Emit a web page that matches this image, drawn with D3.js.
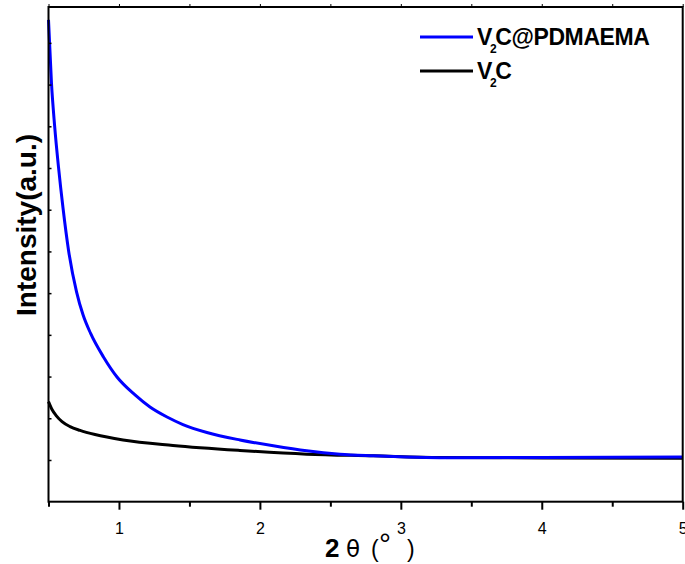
<!DOCTYPE html>
<html><head><meta charset="utf-8">
<script src="https://cdn.jsdelivr.net/npm/d3@7"></script>
<style>
html,body{margin:0;padding:0;background:#fff;}
svg{display:block;overflow:visible;}
text{font-family:"Liberation Sans",Arial,sans-serif;}
</style></head>
<body>
<svg id="chart" width="685" height="564"></svg>
<script>
// ---- data (2θ in degrees, intensity in a.u.) ----
const seriesNames = ["V2C@PDMAEMA", "V2C"];
const blueX = [0.5, 0.521, 0.543, 0.571, 0.603, 0.642, 0.699, 0.745, 0.798, 0.890, 0.986, 1.114, 1.22, 1.341, 1.454, 1.624, 1.859, 2.095, 2.332, 2.568, 2.805, 3.04, 3.278, 4.0, 5.0];
const blueY = [11.55, 10.04, 9.03, 8.02, 7.04, 6.03, 5.03, 4.48, 4.04, 3.47, 2.99, 2.56, 2.27, 2.03, 1.85, 1.66, 1.48, 1.34, 1.22, 1.14, 1.10, 1.07, 1.055, 1.06, 1.07];
const blackX = [0.5, 0.525, 0.553, 0.596, 0.653, 0.724, 0.83, 1.029, 1.383, 1.858, 2.332, 2.803, 3.278, 4.009, 5.0];
const blackY = [2.40, 2.21, 2.07, 1.92, 1.80, 1.71, 1.61, 1.48, 1.35, 1.23, 1.14, 1.10, 1.06, 1.05, 1.04];
const xTicks = [0.5, 1, 1.5, 2, 2.5, 3, 3.5, 4, 4.5, 5];
const xTickLabels = ["", "1", "", "2", "", "3", "", "4", "", "5"];
const yTicks = [1, 2, 3, 4, 5, 6, 7, 8, 9, 10, 11];
const colors = ["#0000ff", "#000000"];

const svg = d3.select("#chart");
const L = 48.5, R = 682.7, T = 7, B = 501.7;
const x = d3.scaleLinear().domain([0.5, 5]).range([L, R]);
const y = d3.scaleLinear().domain([0, 11.86]).range([B, T]);

const line = d3.line().x(d => x(d[0])).y(d => y(d[1])).curve(d3.curveMonotoneX);
const blue = blueX.map((v, i) => [v, blueY[i]]);
const black = blackX.map((v, i) => [v, blackY[i]]);

svg.append("path").datum(black).attr("d", line).attr("fill", "none")
  .attr("stroke", colors[1]).attr("stroke-width", 3);
svg.append("path").datum(blue).attr("d", line).attr("fill", "none")
  .attr("stroke", colors[0]).attr("stroke-width", 3);

// frame
svg.append("rect").attr("x", L).attr("y", T).attr("width", R - L).attr("height", B - T)
  .attr("fill", "none").attr("stroke", "#000").attr("stroke-width", 2);

// bottom axis
const bottomAxis = svg.append("g").attr("transform", `translate(0,${B})`)
  .call(d3.axisBottom(x).tickValues(xTicks).tickSize(0).tickFormat((d, i) => xTickLabels[i]));
bottomAxis.select(".domain").remove();
bottomAxis.selectAll(".tick line").attr("y2", d => Number.isInteger(d) ? 8 : 5)
  .attr("stroke", "#000").attr("stroke-width", 2);
bottomAxis.selectAll(".tick text").attr("y", 32).attr("dy", 0)
  .attr("font-size", 16).attr("fill", "#000").attr("font-family", "Liberation Sans, Arial, sans-serif");

// top axis (small outward ticks)
const topAxis = svg.append("g").attr("transform", `translate(0,${T})`)
  .call(d3.axisTop(x).tickValues(xTicks).tickSize(3).tickFormat(""));
topAxis.select(".domain").remove();
topAxis.selectAll(".tick line").attr("stroke", "#000").attr("stroke-width", 1);

// left axis (small inward ticks)
const leftAxis = svg.append("g").attr("transform", `translate(${L},0)`)
  .call(d3.axisLeft(y).tickValues(yTicks).tickSize(-3).tickFormat(""));
leftAxis.select(".domain").remove();
leftAxis.selectAll(".tick line").attr("stroke", "#000").attr("stroke-width", 1.5);

// axis titles
svg.append("text").attr("transform", "translate(36,225) rotate(-90)")
  .attr("text-anchor", "middle").attr("font-size", 28).attr("font-weight", "bold")
  .text("Intensity(a.u.)");

const xt = svg.append("text").attr("y", 557).attr("fill", "#000");
xt.append("tspan").attr("x", 325).attr("font-size", 26).attr("font-weight", "bold").text("2");
xt.append("tspan").attr("x", 346).attr("font-size", 23).attr("font-family", "DejaVu Sans, sans-serif").text("θ");
xt.append("tspan").attr("x", 371).attr("font-size", 23).text("(");
xt.append("tspan").attr("x", 379).attr("dy", -3).attr("font-size", 30).text("°");
xt.append("tspan").attr("x", 407).attr("dy", 3).attr("font-size", 23).text(")");

// legend
const legend = svg.append("g");
const rowsY = [37, 71];
seriesNames.forEach((name, i) => {
  legend.append("line").attr("x1", 420).attr("x2", 473).attr("y1", rowsY[i]).attr("y2", rowsY[i])
    .attr("stroke", colors[i]).attr("stroke-width", 3);
  const t = legend.append("text").attr("x", 477).attr("y", rowsY[i] + 8)
    .attr("font-size", 23).attr("font-weight", "bold").attr("letter-spacing", -0.4);
  t.append("tspan").text("V");
  t.append("tspan").attr("dx", -2).attr("dy", 8).attr("font-size", 12).text("2");
  t.append("tspan").attr("dx", -1).attr("dy", -8).text(name.slice(2));
});
</script>
</body></html>
